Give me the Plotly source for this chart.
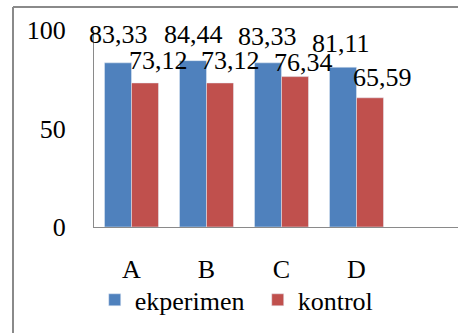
import plotly.graph_objects as go

categories = ["A", "B", "C", "D"]
ekperimen = [83.33, 84.44, 83.33, 81.11]
kontrol = [73.12, 73.12, 76.34, 65.59]
label_ek = ["83,33", "84,44", "83,33", "81,11"]
label_ko = ["73,12", "73,12", "76,34", "65,59"]

BLUE = "#4F81BD"
RED = "#C0504D"
FONT = "'Liberation Serif', 'Times New Roman', Tinos, 'DejaVu Serif', serif"
FS = 26

# label placement offsets (px) relative to bar top
ek_dx = [0, 0, -1, -2]
ek_dy = [28, 26, 26, 24]
ko_dx = [13, 10, 8, 12]
ko_dy = [22, 22, 14, 20]

W, H = 458, 333
L, R, T, B = 94, 0, 30, 106

fig = go.Figure()
fig.add_trace(go.Bar(x=categories, y=ekperimen, name="ekperimen", marker_color=BLUE))
fig.add_trace(go.Bar(x=categories, y=kontrol, name="kontrol", marker_color=RED))

plot_w = W - L - R
ph = H - T - B
slot = 75.0
xmax = -0.5 + plot_w / slot
bargap = 0.28
half = (1 - bargap) / 4

annotations = []
for i in range(len(categories)):
    annotations.append(dict(x=i - half, y=ekperimen[i], xref="x", yref="y", text=label_ek[i],
                            showarrow=False, xshift=ek_dx[i], yshift=ek_dy[i],
                            xanchor="center", yanchor="middle",
                            font=dict(family=FONT, size=FS, color="#000")))
    annotations.append(dict(x=i + half, y=kontrol[i], xref="x", yref="y", text=label_ko[i],
                            showarrow=False, xshift=ko_dx[i], yshift=ko_dy[i],
                            xanchor="center", yanchor="middle",
                            font=dict(family=FONT, size=FS, color="#000")))

top_frac = (H - B - 7) / ph
left_frac = (13 - L) / plot_w
shapes = [
    dict(type="line", xref="paper", yref="paper",
         x0=left_frac, x1=left_frac, y0=-(B + 10) / ph, y1=top_frac,
         line=dict(color="#8a8a8a", width=2)),
    dict(type="line", xref="paper", yref="paper",
         x0=left_frac, x1=1.05, y0=top_frac, y1=top_frac,
         line=dict(color="#8a8a8a", width=2)),
]

fig.update_layout(
    width=W, height=H,
    margin=dict(l=L, r=R, t=T, b=B, pad=0),
    paper_bgcolor="white", plot_bgcolor="white",
    barmode="group", bargap=bargap, bargroupgap=0,
    font=dict(family=FONT, size=FS, color="#000"),
    showlegend=True,
    legend=dict(orientation="h", x=0.002, xanchor="left", y=-0.37, yanchor="middle",
                font=dict(family=FONT, size=FS, color="#000"),
                entrywidth=118, entrywidthmode="pixels",
                bgcolor="rgba(0,0,0,0)", itemclick=False),
    annotations=annotations,
    shapes=shapes,
)
fig.update_xaxes(range=[-0.5, xmax], showline=True, linecolor="#8a8a8a", linewidth=1,
                 showgrid=False, zeroline=False, ticks="", ticklabelstandoff=19,
                 tickfont=dict(family=FONT, size=FS))
fig.update_yaxes(range=[0, 100], tickvals=[0, 50, 100], showline=True, linecolor="#8a8a8a",
                 linewidth=1, showgrid=False, zeroline=False, ticks="", ticklabelstandoff=22,
                 tickfont=dict(family=FONT, size=FS))

fig.write_html("out.html", config={"displayModeBar": False},
               post_script="document.body.style.margin='0';document.body.style.overflow='hidden';")
